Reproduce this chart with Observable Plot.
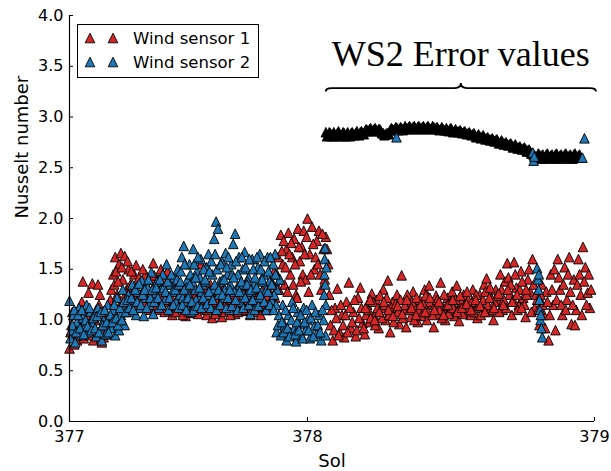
<!DOCTYPE html>
<html>
<head>
<meta charset="utf-8">
<script src="https://cdn.jsdelivr.net/npm/d3@7"></script>
<script src="https://cdn.jsdelivr.net/npm/@observablehq/plot@0.6"></script>
<style>
  html, body { margin: 0; padding: 0; background: #fff; }
  #chart { width: 611px; height: 471px; }
</style>
</head>
<body>
<div id="chart"></div>
<script>
// Wind sensor 1 Nusselt number: [sol, Nu]
const ws1 = [
  [377.000,0.72],[377.008,0.95],[377.016,0.84],[377.020,0.76],[377.024,1.05],[377.032,0.80],[377.040,1.12],[377.048,0.92],
  [377.056,1.38],[377.064,0.88],[377.072,1.02],[377.080,1.27],[377.088,0.96],[377.096,1.36],[377.100,0.80],
  [377.104,0.86],[377.112,1.10],[377.120,1.35],[377.128,1.25],[377.136,0.78],[377.144,0.83],[377.152,1.05],[377.160,0.95],[377.168,1.18],
  [377.176,1.30],[377.180,1.05],[377.184,1.45],[377.192,1.62],[377.200,1.25],[377.208,1.55],[377.212,1.15],[377.216,1.66],
  [377.224,1.40],[377.232,1.63],[377.236,1.08],[377.240,1.30],[377.248,1.50],
  [377.256,1.35],[377.264,1.18],[377.272,1.45],[377.280,1.54],[377.288,1.22],[377.296,1.38],[377.304,1.12],[377.312,1.30],
  [377.320,1.45],[377.328,1.15],[377.336,1.28],[377.344,1.40],[377.352,1.56],[377.360,1.20],[377.368,1.33],[377.376,1.10],
  [377.384,1.50],[377.392,1.25],[377.400,1.08],[377.408,1.35],[377.416,1.18],[377.424,1.42],[377.432,1.05],[377.440,1.28],[377.448,1.15],
  [377.456,1.22],[377.464,1.08],[377.472,1.30],[377.480,1.12],[377.488,1.04],[377.496,1.25],[377.504,1.16],[377.512,1.38],
  [377.520,1.07],[377.528,1.20],[377.536,1.12],[377.544,1.30],[377.552,1.55],[377.560,1.10],[377.568,1.23],[377.576,1.05],
  [377.584,1.18],[377.592,1.35],[377.600,1.02],[377.608,1.14],[377.616,1.26],[377.624,1.08],[377.632,1.20],[377.640,1.03],
  [377.648,1.32],[377.656,1.15],[377.664,1.24],[377.672,1.10],[377.680,1.28],[377.688,1.16],[377.696,1.06],[377.704,1.22],
  [377.712,1.13],[377.720,1.34],[377.728,1.09],[377.736,1.19],[377.744,1.27],[377.752,1.12],[377.760,1.05],[377.768,1.21],
  [377.776,1.15],[377.784,1.30],[377.792,1.08],[377.800,1.18],[377.808,1.25],[377.816,1.13],[377.824,1.20],[377.832,1.10],
  [377.840,1.28],[377.848,1.16],[377.856,1.35],[377.864,1.22],[377.872,1.45],[377.880,1.30],
  [377.888,1.84],[377.896,1.55],[377.904,1.35],[377.912,1.70],[377.916,1.28],[377.920,1.86],[377.928,1.45],[377.936,1.62],
  [377.944,1.80],[377.952,1.25],[377.956,1.22],[377.960,1.90],[377.968,1.58],[377.976,1.72],[377.980,1.45],[377.984,1.88],
  [377.992,1.40],[378.000,2.00],[378.004,1.28],[378.008,1.65],[378.016,1.92],[378.024,1.50],[378.028,1.62],[378.032,1.78],
  [378.040,1.88],[378.044,1.45],[378.048,1.30],[378.056,1.70],[378.064,1.82],[378.072,1.55],
  [378.080,0.95],[378.088,0.80],[378.096,1.12],[378.104,1.31],[378.112,0.88],[378.120,1.05],[378.128,0.83],[378.136,1.18],
  [378.144,1.37],[378.152,0.92],[378.160,1.08],[378.168,0.84],[378.176,1.22],[378.184,1.32],[378.192,0.97],[378.200,0.86],
  [378.208,1.15],[378.216,0.98],[378.224,1.26],[378.232,1.05],[378.240,1.20],[378.248,0.92],[378.256,1.12],[378.264,1.30],
  [378.272,1.00],[378.280,1.39],[378.288,0.88],[378.296,1.18],[378.304,1.08],[378.312,1.25],[378.320,0.96],[378.328,1.44],
  [378.336,1.10],[378.344,0.93],[378.352,1.22],[378.360,1.03],[378.368,1.28],[378.376,1.12],[378.384,0.98],[378.392,1.20],
  [378.400,1.08],[378.408,1.30],[378.416,1.00],[378.424,1.34],[378.432,1.15],[378.440,0.93],[378.448,1.24],[378.456,1.06],
  [378.464,1.37],[378.472,1.12],[378.480,1.00],[378.488,1.22],[378.496,1.10],[378.504,1.28],[378.512,1.04],[378.520,1.34],
  [378.528,0.99],[378.536,1.18],[378.544,1.25],[378.552,1.08],[378.560,1.20],
  [378.568,1.05],[378.576,1.30],[378.584,1.15],[378.592,1.02],[378.600,1.25],[378.608,1.12],[378.616,1.35],[378.624,1.41],
  [378.632,1.08],[378.640,1.22],[378.648,1.00],[378.656,1.30],[378.664,1.18],[378.672,1.45],[378.680,1.10],[378.688,1.38],
  [378.696,1.56],[378.704,1.25],[378.712,1.05],[378.720,1.57],[378.728,1.32],[378.736,1.15],[378.744,1.48],[378.752,1.22],
  [378.760,1.03],[378.768,1.40],[378.776,1.28],[378.784,1.60],[378.792,1.12],
  [378.800,1.20],[378.808,0.95],[378.816,1.35],[378.824,1.05],[378.832,1.28],[378.840,0.80],[378.848,1.45],[378.856,1.15],
  [378.864,0.90],[378.872,1.60],[378.880,1.30],[378.888,1.05],[378.896,1.52],[378.904,1.20],[378.912,1.62],[378.920,0.96],
  [378.928,1.40],[378.932,0.95],[378.936,1.10],[378.944,1.60],[378.952,1.25],[378.956,1.05],[378.960,1.72],[378.968,1.52],
  [378.976,1.27],[378.980,1.45],[378.984,1.12],
  // intermediate samples
  [377.004,0.88],[377.012,1.08],[377.028,0.93],[377.036,0.85],[377.044,1.00],[377.052,1.18],[377.060,0.82],[377.068,1.10],
  [377.076,0.90],[377.084,1.05],[377.092,0.85],[377.108,1.00],[377.116,0.88],[377.124,1.15],[377.132,0.82],[377.140,0.92],
  [377.148,1.10],[377.156,0.86],[377.164,1.02],[377.172,1.20],[377.188,1.35],[377.196,1.48],[377.204,1.38],[377.220,1.52],
  [377.228,1.22],[377.244,1.58],[377.252,1.28],[377.260,1.48],[377.268,1.25],[377.276,1.32],[377.284,1.15],[377.292,1.42],
  [377.300,1.25],[377.308,1.50],[377.316,1.18],[377.324,1.35],[377.332,1.22],[377.340,1.10],[377.348,1.30],[377.356,1.44],
  [377.364,1.12],[377.372,1.40],[377.380,1.24],[377.388,1.15],[377.396,1.38],[377.404,1.20],[377.412,1.48],[377.420,1.10],
  [377.428,1.22],[377.436,1.35],[377.444,1.08],[377.452,1.30],[377.460,1.15],[377.468,1.20],[377.476,1.05],[377.484,1.26],
  [377.492,1.14],[377.500,1.08],[377.508,1.28],[377.516,1.18],[377.524,1.12],[377.532,1.25],[377.540,1.06],[377.548,1.20],
  [377.556,1.32],[377.564,1.15],[377.572,1.28],[377.580,1.10],[377.588,1.22],[377.596,1.12],[377.604,1.25],[377.612,1.06],
  [377.620,1.18],[377.628,1.30],[377.636,1.12],[377.644,1.22],[377.652,1.08],[377.660,1.17],[377.668,1.30],[377.676,1.05],
  [377.684,1.20],[377.692,1.26],[377.700,1.14],[377.708,1.08],[377.716,1.24],[377.724,1.17],[377.732,1.28],[377.740,1.10],
  [377.748,1.20],[377.756,1.30],[377.764,1.12],[377.772,1.25],[377.780,1.08],[377.788,1.22],[377.796,1.14],[377.804,1.05],
  [377.812,1.30],[377.820,1.16],[377.828,1.24],[377.836,1.12],[377.844,1.38],[377.852,1.20],[377.860,1.48],[377.868,1.30],
  [377.876,1.62],[377.884,1.40],[377.892,1.68],[377.900,1.78],[377.908,1.52],[377.924,1.65],[377.932,1.76],[377.940,1.35],
  [377.948,1.55],[377.964,1.72],[377.972,1.38],[377.988,1.65],[377.996,1.82],[378.012,1.45],[378.020,1.75],[378.036,1.55],
  [378.052,1.85],[378.060,1.40],[378.068,1.70],[378.076,1.25],
  [378.084,1.10],[378.092,0.90],[378.100,1.02],[378.108,0.85],[378.116,1.15],[378.124,0.95],[378.132,1.05],[378.140,0.88],
  [378.148,1.12],[378.156,0.98],[378.164,1.20],[378.172,0.90],[378.180,1.02],[378.188,1.12],[378.196,0.92],[378.204,1.05],
  [378.212,1.10],[378.220,1.02],[378.228,1.18],[378.236,0.95],[378.244,1.12],[378.252,1.24],[378.260,1.02],[378.268,1.15],
  [378.276,1.22],[378.284,1.05],[378.292,1.12],[378.300,0.98],[378.308,1.16],[378.316,1.08],[378.324,1.20],[378.332,1.02],
  [378.340,1.15],[378.348,1.25],[378.356,1.10],[378.364,1.18],[378.372,1.00],[378.380,1.22],[378.388,1.10],[378.396,1.04],
  [378.404,1.16],[378.412,1.24],[378.420,1.08],[378.428,1.18],[378.436,1.05],[378.444,1.15],[378.452,1.20],[378.460,1.10],
  [378.468,1.02],[378.476,1.25],[378.484,1.14],[378.492,1.06],[378.500,1.18],[378.508,1.12],[378.516,1.20],[378.524,1.10],
  [378.532,1.24],[378.540,1.06],[378.548,1.15],[378.556,1.28],[378.564,1.12],[378.572,1.18],[378.580,1.08],[378.588,1.25],
  [378.596,1.14],[378.604,1.05],[378.612,1.20],[378.620,1.28],[378.628,1.15],[378.636,1.32],[378.644,1.10],[378.652,1.18],
  [378.660,1.24],[378.668,1.08],[378.676,1.30],[378.684,1.20],[378.692,1.12],[378.700,1.42],[378.708,1.35],[378.716,1.20],
  [378.724,1.45],[378.732,1.10],[378.740,1.30],[378.748,1.38],[378.756,1.15],[378.764,1.25],[378.772,1.50],[378.780,1.08],
  [378.788,1.35],[378.796,1.25],[378.804,1.10],[378.812,1.25],[378.820,1.15],[378.828,0.92],[378.836,1.18],[378.844,1.05],
  [378.852,1.30],[378.860,1.50],[378.868,1.20],[378.876,1.42],[378.884,1.15],[378.892,1.35],[378.900,1.10],[378.908,1.45],
  [378.916,1.28],[378.924,1.15],[378.940,1.35],[378.948,1.45],[378.964,1.38],[378.972,1.15],[378.988,1.30],
  [378.202,1.12],[378.218,1.20],[378.234,1.00],[378.250,1.08],[378.266,1.18],[378.282,1.10],[378.298,1.04],[378.314,1.14],
  [378.330,1.06],[378.346,1.20],[378.362,1.12],[378.378,1.05],[378.394,1.15],[378.410,1.08],[378.426,1.22],[378.442,1.10],
  [378.458,1.18],[378.474,1.05],[378.490,1.15],[378.506,1.20],[378.522,1.08],[378.538,1.12],[378.554,1.16],[378.570,1.10],
  [378.586,1.20],[378.602,1.14],[378.618,1.08],[378.634,1.22],[378.650,1.12],[378.666,1.26],[378.682,1.15],[378.698,1.30],
  [378.714,1.18],[378.730,1.25],[378.746,1.12],[378.762,1.30]
];

// Wind sensor 2 Nusselt number: [sol, Nu]
const ws2 = [
  [377.000,1.19],[377.004,0.82],[377.008,0.90],[377.016,1.05],[377.024,0.78],[377.032,0.98],[377.040,1.12],[377.048,0.85],
  [377.056,1.02],[377.064,0.93],[377.072,1.15],[377.080,0.88],[377.088,1.08],[377.096,0.97],[377.104,1.06],[377.112,0.84],
  [377.120,1.12],[377.128,0.90],[377.136,0.80],[377.144,1.00],[377.152,0.86],[377.160,1.15],[377.168,0.95],
  [377.176,0.92],[377.184,1.10],[377.192,0.85],[377.200,1.22],[377.208,0.90],[377.216,1.05],[377.224,1.30],[377.232,0.95],
  [377.240,1.15],[377.248,1.25],[377.256,1.08],[377.264,1.35],[377.272,1.18],[377.280,1.05],[377.288,1.28],[377.296,1.12],
  [377.304,1.39],[377.312,1.04],[377.320,1.22],[377.328,1.32],[377.336,1.15],[377.344,1.47],[377.352,1.06],[377.360,1.25],
  [377.368,1.38],[377.376,1.12],[377.384,1.30],[377.392,1.45],[377.400,1.20],[377.408,1.55],[377.416,1.10],[377.424,1.35],
  [377.432,1.28],[377.440,1.42],[377.448,1.18],
  [377.456,1.50],[377.464,1.25],[377.472,1.62],[377.480,1.73],[377.488,1.15],[377.496,1.40],[377.504,1.55],[377.512,1.08],
  [377.520,1.70],[377.528,1.30],[377.536,1.48],[377.544,1.20],[377.552,1.60],[377.560,1.35],[377.568,1.12],[377.576,1.52],
  [377.584,1.65],[377.592,1.28],[377.600,1.45],[377.608,1.80],[377.616,1.97],[377.624,1.90],[377.632,1.38],[377.640,1.58],
  [377.648,1.22],[377.656,1.66],[377.664,1.45],[377.672,1.10],[377.680,1.55],[377.688,1.75],[377.696,1.85],[377.704,1.32],
  [377.712,1.62],[377.720,1.18],[377.728,1.50],[377.736,1.67],[377.744,1.25],[377.752,1.42],[377.760,1.06],[377.768,1.60],
  [377.776,1.35],[377.784,1.15],[377.792,1.52],[377.800,1.65],[377.808,1.28],[377.816,1.45],[377.824,1.10],[377.832,1.62],
  [377.840,1.38],[377.848,1.20],[377.856,1.55],[377.864,1.65],[377.870,0.88],[377.872,1.30],[377.876,0.95],[377.880,1.05],[377.884,1.40],
  [377.888,0.85],[377.896,1.15],[377.904,0.95],[377.912,0.80],[377.920,1.05],[377.928,0.88],[377.936,1.18],[377.944,0.92],
  [377.952,0.79],[377.960,1.08],[377.968,0.96],[377.976,0.84],[377.984,1.12],[377.992,0.90],[378.000,1.00],[378.008,0.82],
  [378.016,1.15],[378.024,0.94],[378.032,0.86],[378.040,1.05],[378.048,0.80],[378.056,1.00],
  [378.058,1.25],[378.059,1.45],[378.060,1.60],[378.061,1.71],[378.062,1.35],[378.063,0.85],[378.064,1.15],[378.066,1.52],
  [378.310,2.80],
  [378.785,2.65],[378.788,2.57],[378.790,2.61],
  [378.800,1.51],[378.803,1.40],[378.805,1.30],[378.806,1.45],[378.808,1.20],[378.810,1.10],[378.812,1.00],[378.813,1.05],
  [378.815,0.92],[378.818,0.83],
  [378.958,2.60],[378.965,2.79],
  // intermediate samples
  [377.012,0.95],[377.020,1.10],[377.028,0.88],[377.036,1.05],[377.044,0.92],[377.052,1.10],[377.060,0.86],[377.068,1.00],
  [377.076,0.94],[377.084,1.12],[377.092,0.90],[377.100,1.02],[377.108,0.92],[377.116,1.04],[377.124,0.88],[377.132,1.08],
  [377.140,0.95],[377.148,1.10],[377.156,0.98],[377.164,0.88],[377.172,1.05],[377.180,0.98],[377.188,1.15],[377.196,1.02],
  [377.204,0.95],[377.212,1.12],[377.220,1.00],[377.228,1.18],[377.236,1.08],[377.244,1.20],[377.252,1.12],[377.260,1.22],
  [377.268,1.10],[377.276,1.30],[377.284,1.18],[377.292,1.36],[377.300,1.15],[377.308,1.25],[377.316,1.30],[377.324,1.12],
  [377.332,1.40],[377.340,1.22],[377.348,1.30],[377.356,1.18],[377.364,1.32],[377.372,1.22],[377.380,1.40],[377.388,1.15],
  [377.396,1.32],[377.404,1.28],[377.412,1.38],[377.420,1.22],[377.428,1.45],[377.436,1.15],[377.444,1.30],[377.452,1.40],
  [377.460,1.35],[377.468,1.48],[377.476,1.22],[377.484,1.55],[377.492,1.32],[377.500,1.25],[377.508,1.45],[377.516,1.38],
  [377.524,1.55],[377.532,1.20],[377.540,1.62],[377.548,1.42],[377.556,1.28],[377.564,1.50],[377.572,1.38],[377.580,1.25],
  [377.588,1.48],[377.596,1.58],[377.604,1.30],[377.612,1.65],[377.620,1.50],[377.628,1.25],[377.636,1.55],[377.644,1.40],
  [377.652,1.30],[377.660,1.52],[377.668,1.62],[377.676,1.35],[377.684,1.45],[377.692,1.28],[377.700,1.58],[377.708,1.45],
  [377.716,1.35],[377.724,1.62],[377.732,1.25],[377.740,1.52],[377.748,1.38],[377.756,1.60],[377.764,1.28],[377.772,1.50],
  [377.780,1.42],[377.788,1.62],[377.796,1.22],[377.804,1.50],[377.812,1.38],[377.820,1.58],[377.828,1.30],[377.836,1.48],
  [377.844,1.62],[377.852,1.35],[377.860,1.25],[377.868,1.15],
  [377.892,0.98],[377.900,0.88],[377.908,1.10],[377.916,0.92],[377.924,0.84],[377.932,1.00],[377.940,1.12],[377.948,0.86],
  [377.956,0.98],[377.964,0.90],[377.972,1.05],[377.980,0.82],[377.988,0.98],[377.996,1.10],[378.004,0.90],[378.012,1.02],
  [378.020,0.84],[378.028,1.08],[378.036,0.95],[378.044,0.88],[378.052,1.10],
  [377.458,1.12],[377.466,1.38],[377.474,1.15],[377.482,1.30],[377.490,1.10],[377.498,1.22],[377.506,1.35],[377.514,1.18],
  [377.522,1.10],[377.530,1.42],[377.538,1.14],[377.546,1.32],[377.554,1.12],[377.562,1.22],[377.570,1.40],[377.578,1.16],
  [377.586,1.28],[377.594,1.12],[377.602,1.20],[377.610,1.35],[377.618,1.10],[377.626,1.30],[377.634,1.15],[377.642,1.25],
  [377.650,1.40],[377.658,1.12],[377.666,1.22],[377.674,1.30],[377.682,1.14],[377.690,1.42],[377.698,1.20],[377.706,1.10],
  [377.714,1.28],[377.722,1.38],[377.730,1.12],[377.738,1.22],[377.746,1.35],[377.754,1.15],[377.762,1.30],[377.770,1.20],
  [377.778,1.10],[377.786,1.32],[377.794,1.14],[377.802,1.25],[377.810,1.40],[377.818,1.18],[377.826,1.10],[377.834,1.28],
  [377.842,1.15],[377.850,1.35],[377.858,1.10],[377.866,1.45]
];

// Wind sensor 2 readings flagged as errors: [sol, Nu]
const ws2Error = [
  [378.064,2.85],[378.072,2.82],[378.080,2.84],[378.088,2.83],[378.096,2.81],[378.104,2.84],[378.112,2.83],[378.120,2.82],
  [378.128,2.84],[378.136,2.83],[378.144,2.82],[378.152,2.84],[378.160,2.83],[378.168,2.84],[378.176,2.83],[378.184,2.85],
  [378.192,2.84],[378.200,2.86],[378.208,2.87],[378.216,2.88],[378.224,2.87],[378.232,2.88],[378.240,2.87],[378.248,2.88],
  [378.256,2.86],[378.264,2.84],[378.272,2.83],[378.280,2.84],[378.288,2.87],[378.296,2.88],[378.304,2.88],[378.312,2.89],
  [378.320,2.88],[378.328,2.89],[378.336,2.88],[378.344,2.89],[378.352,2.90],[378.360,2.89],[378.368,2.90],[378.376,2.89],
  [378.384,2.90],[378.392,2.89],[378.400,2.90],[378.408,2.89],[378.416,2.90],[378.424,2.89],[378.432,2.89],[378.440,2.90],
  [378.448,2.89],[378.456,2.88],[378.464,2.88],[378.472,2.88],[378.480,2.87],[378.488,2.87],[378.496,2.88],[378.504,2.87],
  [378.512,2.86],[378.520,2.86],[378.528,2.86],[378.536,2.85],[378.544,2.85],[378.552,2.84],[378.560,2.84],[378.568,2.83],
  [378.576,2.83],[378.584,2.82],[378.592,2.81],[378.600,2.81],[378.608,2.80],[378.616,2.80],[378.624,2.79],[378.632,2.78],
  [378.640,2.78],[378.648,2.77],[378.656,2.77],[378.664,2.76],[378.672,2.75],[378.680,2.75],[378.688,2.74],[378.696,2.73],
  [378.704,2.73],[378.712,2.72],[378.720,2.71],[378.728,2.71],[378.736,2.70],[378.744,2.69],[378.752,2.69],[378.760,2.68],
  [378.768,2.67],[378.776,2.66],[378.784,2.64],[378.792,2.62],[378.800,2.61],[378.808,2.63],[378.816,2.62],[378.824,2.60],
  [378.832,2.63],[378.840,2.61],[378.848,2.62],[378.856,2.60],[378.864,2.63],[378.872,2.61],[378.880,2.62],[378.888,2.60],
  [378.896,2.63],[378.904,2.61],[378.912,2.62],[378.920,2.60],[378.928,2.63],[378.936,2.61],[378.944,2.62],[378.952,2.60],
  // intermediate samples
  [378.068,2.81],[378.076,2.85],[378.084,2.81],[378.092,2.85],[378.100,2.82],[378.108,2.86],[378.116,2.81],[378.124,2.85],
  [378.132,2.81],[378.140,2.85],[378.148,2.81],[378.156,2.85],[378.164,2.82],[378.172,2.86],[378.180,2.82],[378.188,2.86],
  [378.196,2.83],[378.204,2.88],[378.212,2.86],[378.220,2.89],[378.228,2.86],[378.236,2.89],[378.244,2.86],[378.252,2.88],
  [378.260,2.84],[378.268,2.82],[378.276,2.84],[378.284,2.83],[378.292,2.89],[378.300,2.87],[378.308,2.90],[378.316,2.87],
  [378.324,2.90],[378.332,2.87],[378.340,2.91],[378.348,2.88],[378.356,2.91],[378.364,2.88],[378.372,2.91],[378.380,2.88],
  [378.388,2.91],[378.396,2.88],[378.404,2.91],[378.412,2.88],[378.420,2.91],[378.428,2.88],[378.436,2.91],[378.444,2.88],
  [378.452,2.90],[378.460,2.87],[378.468,2.90],[378.476,2.87],[378.484,2.89],[378.492,2.86],[378.500,2.89],[378.508,2.85],
  [378.516,2.88],[378.524,2.85],[378.532,2.87],[378.540,2.84],[378.548,2.86],[378.556,2.83],[378.564,2.85],[378.572,2.82],
  [378.580,2.84],[378.588,2.80],[378.596,2.83],[378.604,2.79],[378.612,2.82],[378.620,2.78],[378.628,2.80],[378.636,2.77],
  [378.644,2.79],[378.652,2.76],[378.660,2.78],[378.668,2.74],[378.676,2.77],[378.684,2.73],[378.692,2.75],[378.700,2.72],
  [378.708,2.74],[378.716,2.70],[378.724,2.73],[378.732,2.69],[378.740,2.71],[378.748,2.68],[378.756,2.70],[378.764,2.66],
  [378.772,2.68],[378.780,2.64],[378.788,2.63],[378.796,2.60],[378.804,2.64],[378.812,2.59],[378.820,2.63],[378.828,2.59],
  [378.836,2.64],[378.844,2.60],[378.852,2.63],[378.860,2.59],[378.868,2.64],[378.876,2.60],[378.884,2.63],[378.892,2.59],
  [378.900,2.64],[378.908,2.60],[378.916,2.63],[378.924,2.59],[378.932,2.64],[378.940,2.60],[378.948,2.63]
];

const xTicks = [377, 378, 379];
const yTicks = [0, 0.5, 1, 1.5, 2, 2.5, 3, 3.5, 4];
const seriesNames = ["Wind sensor 1", "Wind sensor 2"];
const seriesColors = ["#d62728", "#1f77b4"];
const errorLabel = "WS2 Error values";
const errorSpan = [378.065, 379.007];
const braceLevel = 3.28;
const errorLabelLevel = 3.5;

// Upward triangle with equal width and height, centred on its bounding box
const triangleUp = {
  draw(context, size) {
    const h = Math.sqrt(size / Math.PI);
    context.moveTo(0, -h);
    context.lineTo(h, h);
    context.lineTo(-h, h);
    context.closePath();
  }
};

const markerR = 4.8;
const dotStyle = {x: d => d[0], y: d => d[1], symbol: triangleUp, r: markerR, stroke: "black", strokeWidth: 0.9};

const plot = Plot.plot({
  width: 611,
  height: 471,
  marginLeft: 69,
  marginRight: 17,
  marginTop: 15,
  marginBottom: 50,
  style: {fontFamily: "DejaVu Sans", fontSize: "16px", color: "black", background: "white"},
  // piecewise: the two sols are drawn with different widths
  x: {type: "linear", domain: [377, 378, 379], range: [69, 307, 594], ticks: xTicks, tickFormat: d => String(d),
      tickSize: -4, tickPadding: 13, label: null},
  y: {type: "linear", domain: [0, 4], ticks: yTicks, tickFormat: d => d.toFixed(1), tickSize: -4, tickPadding: 10, label: null},
  marks: [
    Plot.dot(ws1, {...dotStyle, fill: seriesColors[0]}),
    Plot.dot(ws2Error, {...dotStyle, fill: "black"}),
    Plot.dot(ws2, {...dotStyle, fill: seriesColors[1]}),
    Plot.ruleX([377], {stroke: "black", strokeWidth: 1.2}),
    Plot.ruleY([0], {stroke: "black", strokeWidth: 1.2}),
    Plot.text(["Sol"], {frameAnchor: "bottom", dy: 40, fontSize: 18, lineAnchor: "middle"}),
    Plot.text(["Nusselt number"], {frameAnchor: "left", dx: -47, rotate: -90, fontSize: 18, lineAnchor: "middle"})
  ]
});

document.getElementById("chart").appendChild(plot);

// Annotation brace and legend, positioned through the plot's scales
const sx = plot.scale("x"), sy = plot.scale("y");
const X = sx.apply ? v => sx.apply(v) : d3.scaleLinear(sx.domain, sx.range);
const Y = sy.apply ? v => sy.apply(v) : d3.scaleLinear(sy.domain, sy.range);
const svg = d3.select(plot);

const x0 = X(errorSpan[0]), x1 = X(errorSpan[1]), xm = (x0 + x1) / 2, yb = Y(braceLevel);
svg.append("path")
  .attr("d", `M${x0},${yb + 3.5} Q${x0},${yb} ${x0 + 6},${yb} L${xm - 6},${yb} Q${xm},${yb} ${xm},${yb - 5} ` +
             `Q${xm},${yb} ${xm + 6},${yb} L${x1 - 6},${yb} Q${x1},${yb} ${x1},${yb + 3.5}`)
  .attr("fill", "none").attr("stroke", "black").attr("stroke-width", 1.8);
svg.append("text")
  .attr("x", xm).attr("y", Y(errorLabelLevel))
  .attr("text-anchor", "middle")
  .attr("font-family", "Liberation Serif, serif")
  .attr("font-size", 36)
  .attr("fill", "black")
  .text(errorLabel);

const legend = svg.append("g").attr("text-anchor", "start");
legend.append("rect")
  .attr("x", 77.5).attr("y", 24.5).attr("width", 181).attr("height", 53)
  .attr("fill", "white").attr("stroke", "black").attr("stroke-width", 1);
const symPath = d3.symbol(triangleUp, markerR * markerR * Math.PI)();
seriesNames.forEach((name, i) => {
  const cy = 38 + 24 * i;
  [90, 113].forEach(cx => {
    legend.append("path").attr("d", symPath).attr("transform", `translate(${cx},${cy})`)
      .attr("fill", seriesColors[i]).attr("stroke", "black").attr("stroke-width", 0.9);
  });
  legend.append("text").attr("x", 133).attr("y", cy + 6).attr("text-anchor", "start")
    .attr("font-family", "DejaVu Sans").attr("font-size", 16.5).attr("fill", "black").text(name);
});
</script>
</body>
</html>
